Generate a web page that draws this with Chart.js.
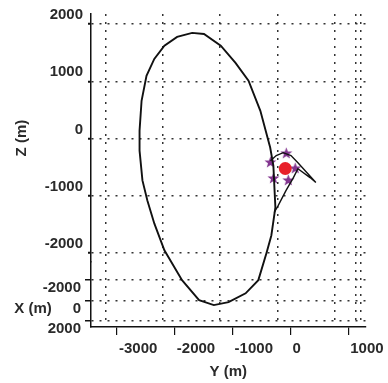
<!DOCTYPE html>
<html>
<head>
<meta charset="utf-8">
<script src="https://cdn.jsdelivr.net/npm/chart.js@4.4.0/dist/chart.umd.min.js"></script>
<style>
  html, body { margin: 0; padding: 0; background: #fff; }
</style>
</head>
<body>
<canvas id="orbitChart" width="388" height="383"></canvas>
<script>
// relative orbit, seen in the Y-Z plane (m)
const orbitY = [-2610, -2575, -2490, -2355, -2180, -1960, -1700, -1495, -1205, -950, -725, -520, -350, -295, -260, -330, -415, -555, -775, -1070, -1325, -1580, -1875, -2180, -2355, -2475, -2560, -2610, -2610];
const orbitZ = [140, 660, 1095, 1390, 1620, 1775, 1845, 1825, 1620, 1320, 1010, 485, -155, -470, -1200, -1690, -2000, -2470, -2700, -2855, -2905, -2820, -2470, -1950, -1480, -1080, -730, -210, 140];

// small loop around the target
const loopY = [-345, -245, -125, 10, 130, 440, 340, 130, 45, -75, -210, -280];
const loopZ = [-385, -295, -245, -295, -420, -765, -680, -525, -695, -905, -1165, -1290];

// waypoints (stars) and target (red dot)
const starY = [-346, -71, 83, -37, -294];
const starZ = [-418, -261, -522, -731, -696];
const targetY = [-89];
const targetZ = [-522];

// axis ticks
const yTicks = [-3000, -2000, -1000, 0, 1000];
const zTicks = [2000, 1000, 0, -1000, -2000];
const xTicks = [-2000, 0, 2000];
// dotted grid lines of the back wall / side wall
const wallGridY = [-3190, -2215, -1220, -225, 770, 1130, 1215];

const font = { family: "'Liberation Sans', Arial, sans-serif", size: 15, weight: "bold" };
const textColor = "#2a2a2a";
const dotted = [2, 6];

function toPoints(xs, ys) {
  return xs.map((v, i) => ({ x: v, y: ys[i] }));
}

// small filled star used as marker
function starMarker(color) {
  const c = document.createElement("canvas");
  c.width = 13;
  c.height = 13;
  const g = c.getContext("2d");
  g.fillStyle = color;
  g.beginPath();
  for (let i = 0; i < 10; i++) {
    const r = i % 2 ? 2.6 : 6.3;
    const a = -Math.PI / 2 + (i * Math.PI) / 5;
    g.lineTo(6.5 + r * Math.cos(a), 6.5 + r * Math.sin(a));
  }
  g.closePath();
  g.fill();
  return c;
}

const setTicks = (list) => (scale) => {
  scale.ticks = list.map((v) => ({ value: v }));
};
const plain = (v) => String(v);

new Chart(document.getElementById("orbitChart"), {
  type: "scatter",
  data: {
    datasets: [
      {
        data: toPoints(orbitY, orbitZ),
        showLine: true,
        borderColor: "#111",
        borderWidth: 1.9,
        pointRadius: 0,
        clip: false,
        xAxisID: "x",
        yAxisID: "y",
      },
      {
        data: toPoints(loopY, loopZ),
        showLine: true,
        borderColor: "#111",
        borderWidth: 1.4,
        pointRadius: 0,
        clip: false,
        xAxisID: "x",
        yAxisID: "y",
      },
      {
        data: toPoints(targetY, targetZ),
        pointRadius: 6.5,
        backgroundColor: "#e8202a",
        borderWidth: 0,
        clip: false,
        xAxisID: "x",
        yAxisID: "y",
      },
      {
        data: toPoints(starY, starZ),
        pointStyle: starMarker("#82358f"),
        pointRadius: 6,
        clip: false,
        xAxisID: "x",
        yAxisID: "y",
      },
    ],
  },
  options: {
    responsive: false,
    animation: false,
    layout: { padding: { top: 13, right: 20, left: 0, bottom: 0 } },
    plugins: { legend: { display: false }, tooltip: { enabled: false } },
    scales: {
      x: {
        type: "linear",
        position: "bottom",
        min: -3450,
        max: 1300,
        afterBuildTicks: setTicks(yTicks),
        ticks: { color: textColor, font: font, padding: 5, align: "start", labelOffset: 2, maxRotation: 0, autoSkip: false, callback: plain },
        grid: { drawOnChartArea: false, tickLength: 8, color: "#111", lineWidth: 1.2 },
        border: { color: "#111", width: 1.5 },
        title: { display: true, text: "Y (m)", color: textColor, font: font, padding: { top: 2, bottom: 2 } },
        afterFit: (s) => { s.height = 56; },
      },
      xg: {
        type: "linear",
        position: "top",
        min: -3450,
        max: 1300,
        afterBuildTicks: setTicks(wallGridY),
        ticks: { display: false },
        grid: { drawTicks: false, color: "#333", lineWidth: 1.5 },
        border: { display: false, dash: dotted },
        afterFit: (s) => { s.height = 0; },
      },
      // floor axis (X) sits under the Z axis in the same left stack
      yX: {
        type: "linear",
        position: "left",
        stack: "v",
        stackWeight: 65,
        reverse: true,
        min: -3737,
        max: 2605,
        afterBuildTicks: setTicks(xTicks),
        ticks: {
          color: textColor,
          font: font,
          padding: 4,
          labelOffset: 8,
          autoSkip: false,
          callback: (v) => (v === 0 ? "X (m)     0" : String(v)),
        },
        grid: { color: "#333", lineWidth: 1.5, tickLength: 6, tickColor: "#111", tickWidth: 1.5 },
        border: { color: "#111", width: 1.5, dash: dotted },
        afterFit: (s) => { s.width = 91; },
      },
      y: {
        type: "linear",
        position: "left",
        stack: "v",
        stackWeight: 249,
        min: -2157,
        max: 2174,
        afterBuildTicks: setTicks(zTicks),
        ticks: { color: textColor, font: font, padding: 5, labelOffset: -9, autoSkip: false, callback: plain },
        grid: { color: "#333", lineWidth: 1.5, tickLength: 3, tickColor: "#111", tickWidth: 2 },
        border: { color: "#111", width: 1.5, dash: dotted },
        title: { display: true, text: "Z (m)", color: textColor, font: font, padding: { top: 13, bottom: 0 } },
        afterFit: (s) => { s.width = 91; },
      },
    },
  },
});
</script>
</body>
</html>
